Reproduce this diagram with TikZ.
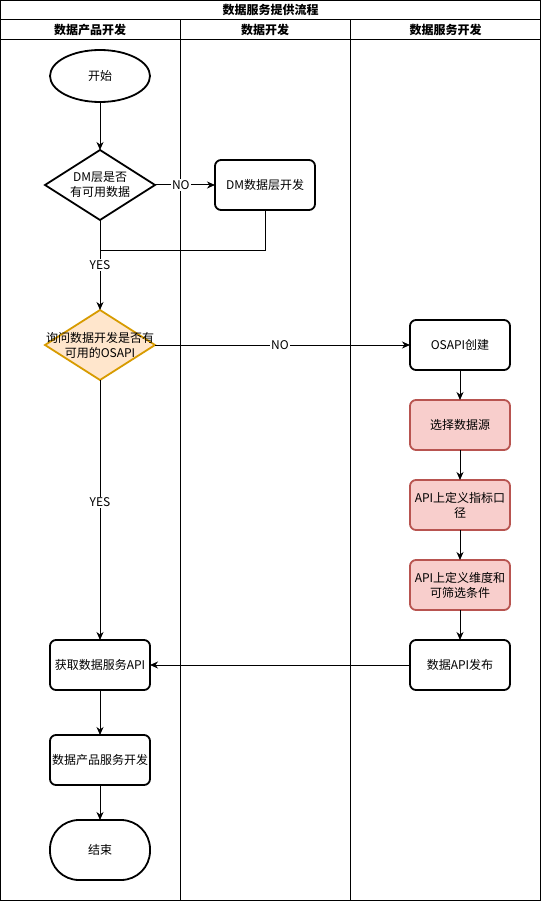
\documentclass[tikz,border=0pt]{standalone}
\usepackage{fontspec}
\setmainfont{Noto Sans CJK SC}
\usetikzlibrary{positioning}
\usetikzlibrary{shapes.geometric}
\usetikzlibrary{arrows.meta}
\definecolor{askfill}{HTML}{FFE6CC}
\definecolor{askdraw}{HTML}{D79B00}
\definecolor{apifill}{HTML}{F8CECC}
\definecolor{apidraw}{HTML}{B85450}
\tikzset{
  every node/.append style={font=\fontsize{12}{15}\selectfont},
  laneline/.style={line width=1pt},
  procbox/.style={rectangle, draw, line width=1.8pt, rounded corners=6pt,
    minimum width=100pt, minimum height=50pt, inner sep=1pt, outer sep=0pt,
    align=center},
  apibox/.style={procbox, draw=apidraw, fill=apifill},
  terminal/.style={procbox, rounded corners=29pt, minimum height=60pt},
  decision/.style={diamond, draw, line width=1.8pt, minimum width=110pt,
    minimum height=70pt, inner sep=0pt, outer sep=0pt},
  flow/.style={-{Stealth[length=8pt, width=7pt, inset=2.5pt]}, line width=1pt},
  flowlabel/.style={fill=white, inner sep=1pt}
}
\begin{document}
\begin{tikzpicture}[x=1pt, y=-1pt]
    \useasboundingbox (0,0) rectangle (541,901);
    % pool and lanes
    \draw[laneline] (0.5,0.5) rectangle (540.5,900.5);
    \draw[laneline] (0.5,20) -- (540.5,20);
    \draw[laneline] (0.5,40) -- (540.5,40);
    \draw[laneline] (180,20) -- (180,900.5);
    \draw[laneline] (350,20) -- (350,900.5);
    \node[font=\fontsize{12}{15}\selectfont\bfseries] (pooltitle) at (270.5,10) {数据服务提供流程};
    \node[font=\fontsize{12}{15}\selectfont\bfseries] (laneproduct) at (90,30) {数据产品开发};
    \node[font=\fontsize{12}{15}\selectfont\bfseries] (lanedata) at (265,30) {数据开发};
    \node[font=\fontsize{12}{15}\selectfont\bfseries] (laneservice) at (445.5,30) {数据服务开发};

    % left lane
    \node[ellipse, draw, line width=1.8pt, outer sep=0pt, minimum width=100pt, minimum height=52pt] (start) at (100,76) {开始};
    \node[decision] (dmcheck) at (100,185) {};
    \node[align=center] (dmchecktext) at (dmcheck.center) {DM层是否\\有可用数据};
    \node[decision, draw=askdraw, fill=askfill] (apicheck) at (100,345) {};
    \node[align=center] (apichecktext) at (apicheck.center) {询问数据开发是否有\\可用的OSAPI};
    \node[procbox] (fetchapi) at (100,665) {获取数据服务API};
    \node[procbox, below=45pt of fetchapi] (productdev) {数据产品服务开发};
    \node[terminal, below=35pt of productdev] (finish) {结束};

    % middle lane
    \node[procbox] (dmdev) at (265,185) {DM数据层开发};
    \coordinate (merge) at (100,250);

    % right lane
    \node[procbox] (osapi) at (460,345) {OSAPI创建};
    \node[apibox, below=30pt of osapi] (source) {选择数据源};
    \node[apibox, below=30pt of source] (metric) {API上定义指标口\\径};
    \node[apibox, below=30pt of metric] (dimension) {API上定义维度和\\可筛选条件};
    \node[procbox, below=30pt of dimension] (publish) {数据API发布};

    % connectors
    \draw[flow] (start) -- (dmcheck);
    \draw[flow] (dmcheck.east) -- node[flowlabel, pos=0.43] (dmno) {NO} (dmdev);
    \draw[laneline] (dmdev.south) |- (merge);
    \draw[flow] (dmcheck.south) -- node[flowlabel] (dmyes) {YES} (apicheck.north);
    \draw[flow] (apicheck.east) -- node[flowlabel, pos=0.49] (apino) {NO} (osapi);
    \draw[flow] (apicheck.south) -- node[flowlabel, pos=0.47] (apiyes) {YES} (fetchapi);
    \draw[flow] (osapi) -- (source);
    \draw[flow] (source) -- (metric);
    \draw[flow] (metric) -- (dimension);
    \draw[flow] (dimension) -- (publish);
    \draw[flow] (publish) -- (fetchapi);
    \draw[flow] (fetchapi) -- (productdev);
    \draw[flow] (productdev) -- (finish);
\end{tikzpicture}
\end{document}
